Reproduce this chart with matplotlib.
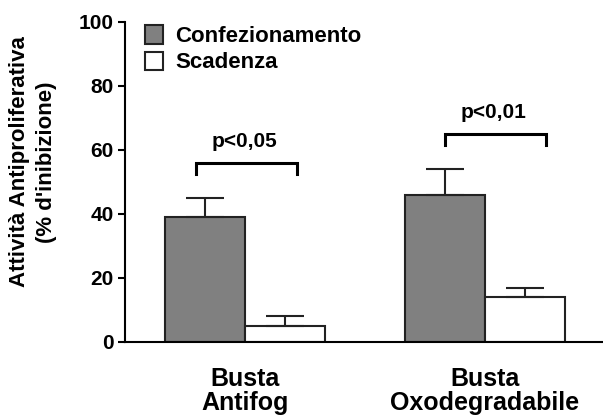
import numpy as np
import matplotlib.pyplot as plt

plt.rcParams['font.family'] = ['Liberation Sans', 'DejaVu Sans']
plt.rcParams['font.weight'] = 'bold'

gruppi = ['Busta\nAntifog', 'Busta\nOxodegradabile']
serie = ['Confezionamento', 'Scadenza']
confezionamento = [39, 46]
confezionamento_err = [6, 8]
scadenza = [5, 14]
scadenza_err = [3, 3]
p_values = ['p<0,05', 'p<0,01']
bracket_y = [56, 65]

fig = plt.figure(figsize=(6.03, 4.19), dpi=100)
ax = fig.add_axes([0.2073, 0.1838, 0.7927, 0.7637])

x = np.arange(len(gruppi))
w = 1 / 3
ekw = dict(elinewidth=1.5, capthick=1.5, ecolor='#222222', capsize=14)
ax.bar(x - w / 2, confezionamento, w, color='#808080', edgecolor='#222222',
       linewidth=1.5, label=serie[0])
ax.errorbar(x - w / 2, confezionamento, yerr=[np.zeros(2), confezionamento_err],
            fmt='none', **ekw)
ax.bar(x + w / 2, scadenza, w, color='white', edgecolor='#222222',
       linewidth=1.5, label=serie[1])
ax.errorbar(x + w / 2, scadenza, yerr=[np.zeros(2), scadenza_err],
            fmt='none', **ekw)

# brackets with significance
for i, (p, yb) in enumerate(zip(p_values, bracket_y)):
    if i == 0:
        x0, x1 = i - 0.204, i + 0.217
    else:
        x0, x1 = i - 0.167, i + 0.254
    ax.plot([x0, x0, x1, x1], [yb - 3.5, yb, yb, yb - 3.5], color='black',
            lw=2.2, solid_joinstyle='miter')
    ax.text((x0 + x1) / 2 - 0.01, yb + 5, p, ha='center', va='baseline',
            fontsize=15, fontweight='bold')

ax.set_xlim(-0.5, 1.4917)
ax.set_ylim(0, 100)
ax.set_yticks([0, 20, 40, 60, 80, 100])
ax.set_xticks(x)
ax.set_xticklabels(gruppi, fontsize=18, fontweight='bold', linespacing=1.0)
ax.tick_params(axis='x', length=0, pad=18)
ax.tick_params(axis='y', labelsize=15, width=1.5, length=5, pad=3)
for s in ['top', 'right']:
    ax.spines[s].set_visible(False)
for s in ['left', 'bottom']:
    ax.spines[s].set_linewidth(1.5)
ax.set_ylabel('Attività Antiproliferativa\n(% d\'inibizione)', fontsize=16,
              fontweight='bold', labelpad=16, y=0.5625, linespacing=1.38)

ax.legend(loc='upper left', bbox_to_anchor=(0.042, 0.99), frameon=False,
          fontsize=16, handlelength=0.8, handleheight=0.9,
          handletextpad=0.55, labelspacing=0.2, borderpad=0,
          borderaxespad=0)

fig.savefig('out.png', dpi=100)
